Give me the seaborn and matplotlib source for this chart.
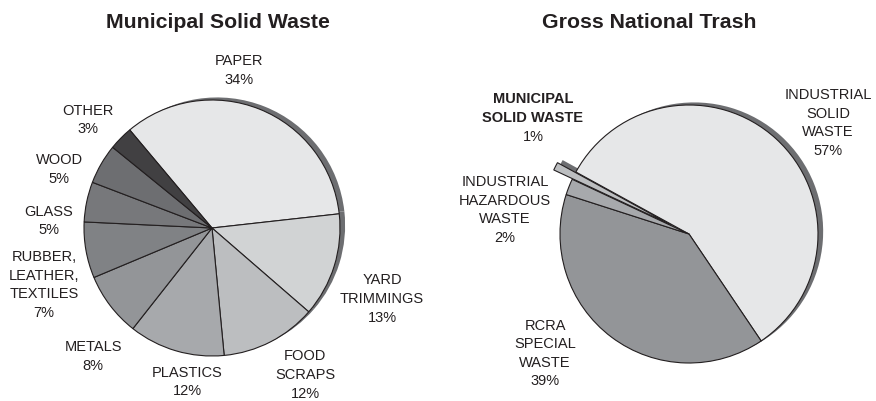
import matplotlib
matplotlib.use("Agg")
import matplotlib.pyplot as plt
import seaborn as sns

sns.set_theme(style="white")
plt.rcParams["font.family"] = ["Liberation Sans", "DejaVu Sans"]

# ---------------- data ----------------
msw_categories = ["PAPER", "YARD\nTRIMMINGS", "FOOD\nSCRAPS", "PLASTICS", "METALS",
                  "RUBBER,\nLEATHER,\nTEXTILES", "GLASS", "WOOD", "OTHER"]
msw_values = [34, 13, 12, 12, 8, 7, 5, 5, 3]
msw_colors = ["#e6e7e8", "#d1d3d4", "#bcbec0", "#a7a9ac", "#939598",
              "#808285", "#77787b", "#6d6e71", "#414042"]

gnt_categories = ["INDUSTRIAL\nSOLID\nWASTE", "RCRA\nSPECIAL\nWASTE",
                  "INDUSTRIAL\nHAZARDOUS\nWASTE", "MUNICIPAL\nSOLID WASTE"]
gnt_values = [57, 39, 2, 1]
gnt_colors = ["#e6e7e8", "#939598", "#a7a9ac", "#bcbec0"]
gnt_explode = [0, 0, 0, 0.16]
gnt_bold = [False, False, False, True]

# ---------------- layout (pixels) ----------------
W, H = 876, 401
EDGE = "#231f20"
SHADOW = "#6d6e71"
LS = 1.42

# label block centres (pixels from top-left)
msw_label_xy = [(239, 70.5), (382, 299), (305, 375), (187, 382), (93, 356.5),
                (44, 285), (49, 221), (59, 169.5), (88, 120)]
gnt_label_xy = [(828, 123), (545, 353.5), (505, 210), (533, 118)]

fig = plt.figure(figsize=(W / 100, H / 100), dpi=100)
fig.patch.set_facecolor("white")


def make_axes(x0, x1, cx, cy, r):
    ax = fig.add_axes([x0 / W, 0, (x1 - x0) / W, 1])
    ax.set_axis_off()
    return ax, ((x0 - cx) / r, (x1 - cx) / r), (-(H - cy) / r, cy / r)


def draw_pie(ax, xlim, ylim, values, colors, startangle, explode=None):
    # shadow pie (offset up-right, behind)
    ax.pie(values, colors=[SHADOW] * len(values), startangle=startangle,
           counterclock=False, center=(0.04, 0.02), explode=explode,
           wedgeprops=dict(linewidth=0, zorder=1))
    wedges, _ = ax.pie(values, colors=colors, startangle=startangle,
                       counterclock=False, explode=explode,
                       wedgeprops=dict(edgecolor=EDGE, linewidth=0.8, zorder=2))
    ax.set_aspect("auto")
    ax.set_xlim(*xlim)
    ax.set_ylim(*ylim)
    return wedges


# left pie
ax1, xl1, yl1 = make_axes(0, 438, 212, 228, 128)
draw_pie(ax1, xl1, yl1, msw_values, msw_colors, startangle=130)

# right pie
ax2, xl2, yl2 = make_axes(438, 876, 689, 234, 129)
start2 = -56 + gnt_values[0] * 360 / sum(gnt_values)
draw_pie(ax2, xl2, yl2, gnt_values, gnt_colors, startangle=start2, explode=gnt_explode)


def ftext(x, y, s, **kw):
    fig.text(x / W, 1 - y / H, s, ha="center", va="center", color="#231f20", **kw)


ftext(218, 23, "Municipal Solid Waste", fontsize=15.3, fontweight="bold")
ftext(649, 23, "Gross National Trash", fontsize=15.3, fontweight="bold")

for name, val, (x, y) in zip(msw_categories, msw_values, msw_label_xy):
    ftext(x, y, f"{name}\n{val}%", fontsize=10.5, linespacing=LS)

for name, val, (x, y), bold in zip(gnt_categories, gnt_values, gnt_label_xy, gnt_bold):
    if bold:
        ftext(x, y - 9.5, name, fontsize=10.5, linespacing=LS, fontweight="bold")
        ftext(x, y + 19, f"{val}%", fontsize=10.5)
    else:
        ftext(x, y, f"{name}\n{val}%", fontsize=10.5, linespacing=LS)

fig.savefig("out.png", dpi=100, facecolor="white")
